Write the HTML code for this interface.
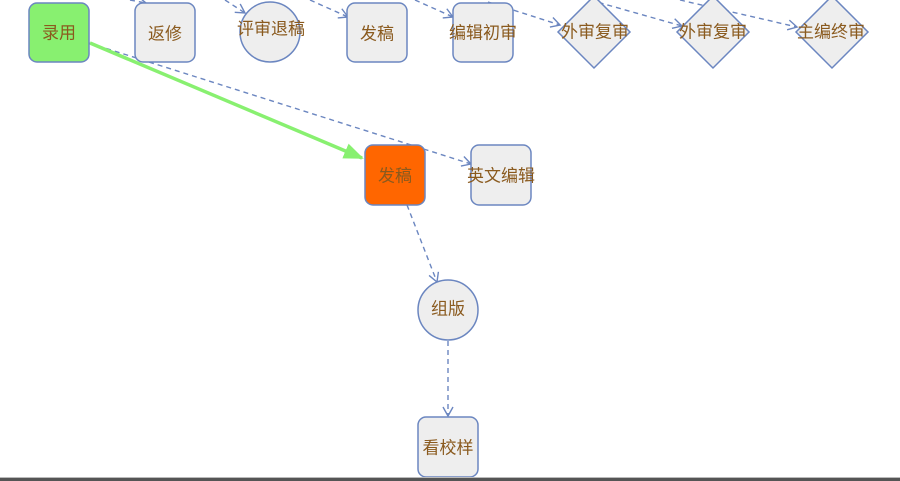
<!DOCTYPE html>
<html><head><meta charset="utf-8"><style>
html,body{margin:0;padding:0;background:#fff;width:900px;height:481px;overflow:hidden}
svg text{font-family:"Liberation Sans","Noto Sans CJK SC",sans-serif;font-size:17px;fill:#8a5a1e;text-anchor:middle;dominant-baseline:central}
</style></head><body>
<svg width="900" height="481" viewBox="0 0 900 481" xmlns="http://www.w3.org/2000/svg">
<defs>
<marker id="a" markerWidth="12" markerHeight="12" refX="10" refY="6" orient="auto" markerUnits="userSpaceOnUse">
<path d="M1,1 L10,6 L1,11" fill="none" stroke="#6b86c0" stroke-width="1.4"/></marker>
<marker id="g" markerWidth="22" markerHeight="22" refX="18" refY="11" orient="auto" markerUnits="userSpaceOnUse">
<path d="M0,3 L20,11 L0,19 Z" fill="#88f070"/></marker>
</defs>
<g stroke="#6b86c0" stroke-width="1.4" stroke-dasharray="5,4" fill="none">
<line x1="130" y1="0" x2="146" y2="3" marker-end="url(#a)"/>
<line x1="225" y1="0" x2="245" y2="13" marker-end="url(#a)"/>
<line x1="310" y1="0" x2="348" y2="17" marker-end="url(#a)"/>
<line x1="415" y1="0" x2="453" y2="17" marker-end="url(#a)"/>
<line x1="488" y1="2" x2="560" y2="25" marker-end="url(#a)"/>
<line x1="590" y1="0" x2="682" y2="26" marker-end="url(#a)"/>
<line x1="680" y1="0" x2="797" y2="27" marker-end="url(#a)"/>
<line x1="89" y1="43" x2="471" y2="164" marker-end="url(#a)"/>
<line x1="407" y1="205" x2="437" y2="282" marker-end="url(#a)"/>
<line x1="448" y1="341" x2="448" y2="416" marker-end="url(#a)"/>
</g>
<line x1="90" y1="43" x2="362" y2="158" stroke="#88f070" stroke-width="3.5" marker-end="url(#g)"/>
<g stroke="#6b86c0" stroke-width="1.5" fill="#eeeeee">
<rect x="29" y="3" width="60" height="59" rx="8" fill="#88f070"/>
<rect x="135" y="3" width="60" height="59" rx="8"/>
<circle cx="270" cy="32" r="30"/>
<rect x="347" y="3" width="60" height="59" rx="8"/>
<rect x="453" y="3" width="60" height="59" rx="8"/>
<polygon points="594,-4 630,32 594,68 558,32"/>
<polygon points="713,-4 749,32 713,68 677,32"/>
<polygon points="832,-4 868,32 832,68 796,32"/>
<rect x="365" y="145" width="60" height="60" rx="8" fill="#ff6600"/>
<rect x="471" y="145" width="60" height="60" rx="8"/>
<circle cx="448" cy="310" r="30"/>
<rect x="418" y="417" width="60" height="60" rx="8"/>
</g>
<text x="59" y="33">录用</text>
<text x="165" y="34">返修</text>
<text x="271" y="29">评审退稿</text>
<text x="377" y="34">发稿</text>
<text x="483" y="33">编辑初审</text>
<text x="595" y="32">外审复审</text>
<text x="713" y="32">外审复审</text>
<text x="831" y="32">主编终审</text>
<text x="395" y="176">发稿</text>
<text x="501" y="176">英文编辑</text>
<text x="448" y="309">组版</text>
<text x="448" y="448">看校样</text>
<rect x="0" y="477" width="900" height="1" fill="#bbb"/>
<rect x="0" y="478" width="900" height="3" fill="#555"/>
</svg>
</body></html>
